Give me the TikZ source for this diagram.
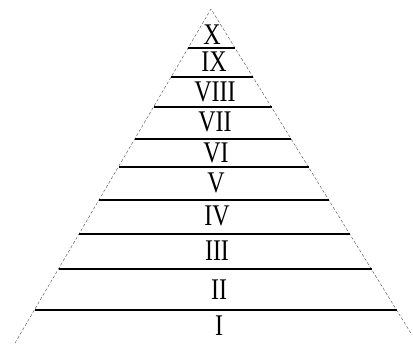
\documentclass[tikz,border=0pt]{standalone}
\usepackage{fontspec}
\setmainfont{Liberation Serif}
\usepackage{tikz}
\tikzset{
  slope/.style={densely dashed, line width=0.4pt, black!70},
  shelf/.style={line width=1.2pt},
  rank/.style={font=\fontsize{30}{30}\selectfont, inner sep=0pt, xscale=0.8},
}

\begin{document}
\begin{tikzpicture}[x=1pt,y=-1pt]
	\useasboundingbox (0,0) rectangle (413,345);
	\draw[slope] (15,343) -- (211,9) -- (412,335);

	\draw[shelf] (188.2,48) -- (235.1,48);
	\draw[shelf] (171.2,77) -- (253.0,77);
	\draw[shelf] (153.7,107) -- (271.6,107);
	\draw[shelf] (135.0,139) -- (291.3,139);
	\draw[shelf] (118.6,167) -- (308.6,167);
	\draw[shelf] (99.3,200) -- (329.0,200);
	\draw[shelf] (79.4,234) -- (350.1,234);
	\draw[shelf] (58.9,269) -- (371.7,269);
	\draw[shelf] (34.9,310) -- (397.0,310);

	\node[rank] (r10) at (212,34.5) {X};
	\node[rank] (r9) at (214,62) {IX};
	\node[rank] (r8) at (215,92) {VIII};
	\node[rank] (r7) at (215,122) {VII};
	\node[rank] (r6) at (216,153) {VI};
	\node[rank] (r5) at (216,183) {V};
	\node[rank] (r4) at (217,216) {IV};
	\node[rank] (r3) at (217,251) {III};
	\node[rank] (r2) at (219,290) {II};
	\node[rank] (r1) at (219,326) {I};
\end{tikzpicture}
\end{document}
